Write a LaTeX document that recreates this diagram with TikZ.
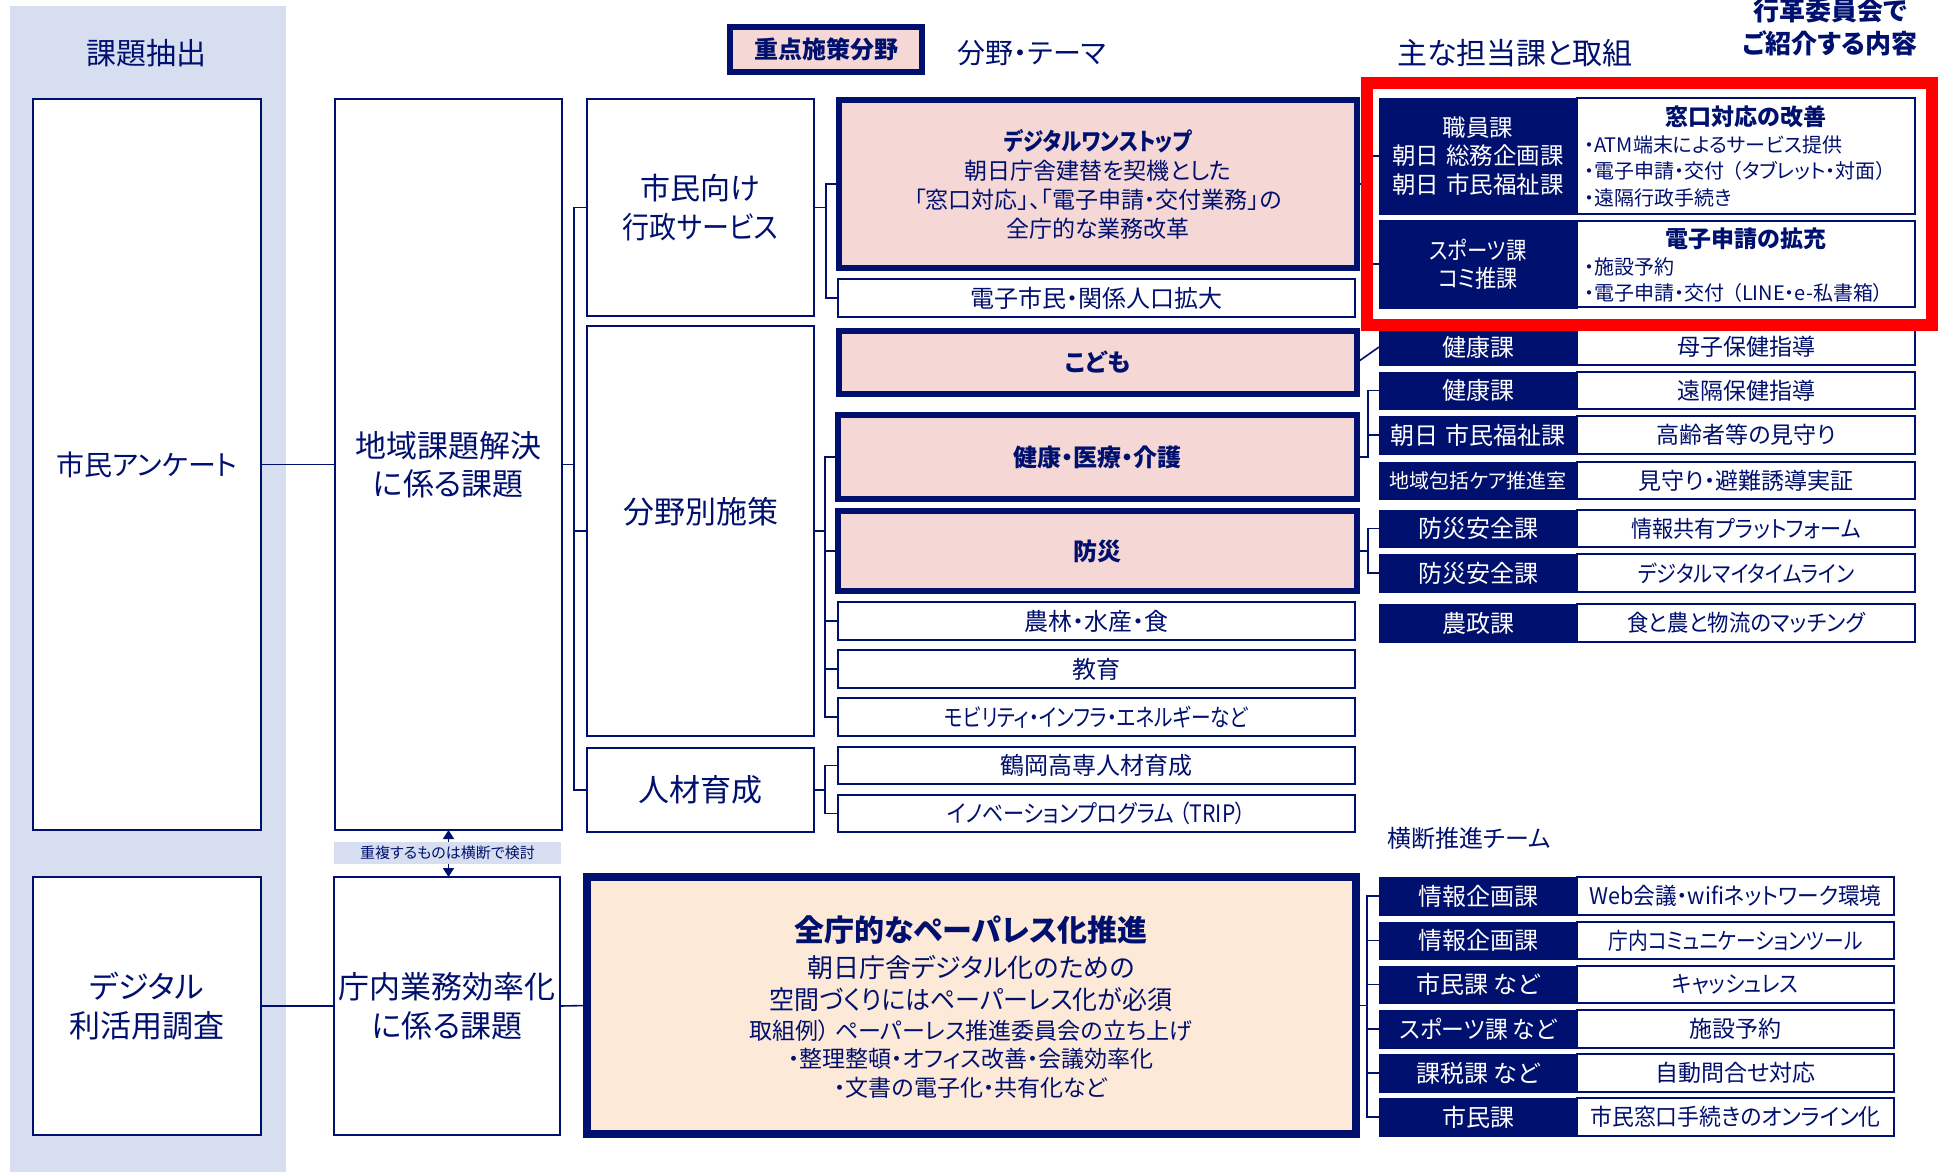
\documentclass[tikz,border=0pt]{standalone}
\usepackage{fontspec}
\usepackage{graphicx}
\setmainfont{Noto Sans CJK JP}[RawFeature=+palt]
\usetikzlibrary{arrows.meta}
\definecolor{navy}{HTML}{00106E}
\definecolor{pinkf}{HTML}{F5D7D5}
\definecolor{peach}{HTML}{FDE9D7}
\definecolor{lblue}{HTML}{D6DEEF}
\definecolor{redc}{HTML}{FF0000}
\newcommand\fs[2]{\fontsize{#1}{#2}\selectfont}
\newcommand\nar[2]{\scalebox{#1}[1]{#2}}
\newcommand\bx[7]{\node[#6,minimum width={(#4)-(#2)},minimum height={(#5)-(#3)}] (#1) at ({((#2)+(#4))/2},{((#3)+(#5))/2}) {#7};}
\newcommand\rowp[6]{\bx{#1d}{1379}{#2}{1577}{#3}{dark}{#4}\bx{#1w}{1577}{#2}{#6}{#3}{cell}{#5}}
\begin{document}
\begin{tikzpicture}[x=1pt,y=-1pt,
  every node/.style={inner sep=0pt,outer sep=0pt,text=navy},
  thin/.style={draw=navy,line width=1.8pt,fill=white,font=\fs{24}{28}},
  thick/.style={draw=navy,line width=6pt,fill=pinkf,font=\bfseries\fs{24}{29}},
  dark/.style={fill=navy,draw=navy,line width=0.8pt,text=white,font=\fs{24}{28},align=center},
  cell/.style={draw=navy,line width=1.8pt,fill=white,font=\fs{23}{27}},
  conn/.style={draw=navy,line width=1.6pt}]
\useasboundingbox (0,0) rectangle (1949,1172);
\fill[white] (0,0) rectangle (1949,1172);
% left band
\bx{band}{10}{6}{286}{1180}{fill=lblue}{}
% headers
\node[font=\fs{30}{36}] (h1) at (146,53) {課題抽出};
\bx{h2}{730}{27}{922}{72}{thick,font=\bfseries\fs{24}{28}}{重点施策分野}
\node[font=\fs{28}{34}] (h3) at (1032,53) {分野・テーマ};
\node[font=\fs{30}{36}] (h4) at (1515,53) {主な担当課と取組};
\node[font=\bfseries\fs{26}{33},align=center] (h5) at (1830,27) {行革委員会で\\ご紹介する内容};
\node[font=\fs{24}{28}] (h6) at (1469,838) {横断推進チーム};
% column 1 and 2
\bx{c1a}{33}{99}{261}{830}{thin,font=\fs{28}{34}}{市民アンケート}
\bx{c1b}{33}{877}{261}{1135}{thin,font=\fs{31}{39},align=center}{デジタル\\利活用調査}
\bx{c2a}{335}{99}{562}{830}{thin,font=\fs{31}{38},align=center}{地域課題解決\\に係る課題}
\bx{c2b}{334}{877}{560}{1135}{thin,font=\fs{31}{39},align=center}{庁内業務効率化\\に係る課題}
\draw[conn,{Triangle[width=11pt,length=9pt]}-{Triangle[width=11pt,length=9pt]}] (c2a.south) -- (c2a.south |- c2b.north);
\bx{lbl}{334}{842}{561}{864}{fill=lblue,font=\fs{15}{18}}{重複するものは横断で検討}
% column 3
\bx{c3a}{587}{99}{814}{316}{thin,font=\fs{30}{39},align=center}{市民向け\\\nar{0.9}{行政サービス}}
\bx{c3b}{587}{326}{814}{736}{thin}{}
\node[font=\fs{31}{37}] (c3bt) at (700.5,512) {分野別施策};
\bx{c3c}{587}{748}{814}{832}{thin,font=\fs{31}{37}}{人材育成}
% themes
\bx{t1}{839}{100}{1357}{268}{thick,align=center,font=\fs{23}{29}}{{\bfseries\fs{24}{29}\nar{0.85}{デジタルワンストップ}}\\朝日庁舎建替を契機とした\\「窓口対応」、「電子申請・交付業務」の\\全庁的な業務改革}
\bx{t2}{838}{279}{1355}{317}{thin}{電子市民・関係人口拡大}
\bx{t3}{839}{331}{1357}{394}{thick}{こども}
\bx{t4}{838}{415}{1357}{499}{thick}{健康・医療・介護}
\bx{t5}{838}{511}{1357}{591}{thick}{防災}
\bx{t6}{838}{602}{1355}{640}{thin}{農林・水産・食}
\bx{t7}{838}{650}{1355}{688}{thin}{教育}
\bx{t8}{838}{698}{1355}{736}{thin}{\nar{0.82}{モビリティ・インフラ・エネルギーなど}}
\bx{t9}{838}{747}{1355}{784}{thin}{鶴岡高専人材育成}
\bx{t10}{838}{795}{1355}{832}{thin}{\nar{0.88}{イノベーションプログラム\hspace{0.25em}（TRIP）}}
\bx{t11}{587}{877}{1356}{1134}{draw=navy,line width=8pt,fill=peach}{}
\node[font=\bfseries\fs{30}{36}] (p1) at (971,930) {全庁的なペーパレス化推進};
\node[font=\fs{26}{30}] (p2) at (971,967) {朝日庁舎デジタル化のための};
\node[font=\fs{26}{30}] (p3) at (971,1000) {\nar{0.96}{空間づくりにはペーパーレス化が必須}};
\node[font=\fs{23}{28}] (p4) at (971,1031) {取組例）\hspace{0.2em}ペーパーレス推進委員会の立ち上げ};
\node[font=\fs{23}{28}] (p5) at (971,1059) {・整理整頓・オフィス改善・会議効率化};
\node[font=\fs{23}{28}] (p6) at (971,1088) {・文書の電子化・共有化など};
% right top
\bx{r1d}{1379}{98}{1577}{214}{dark,font=\fs{23.5}{28.5}}{職員課\\朝日\hspace{0.3em}総務企画課\\朝日\hspace{0.3em}市民福祉課}
\bx{r1w}{1577}{98}{1915}{214}{cell}{}
\node[font=\bfseries\fs{23}{26}] (r1t) at (1746,117) {窓口対応の改善};
\node[font=\fs{20}{26.5},align=left,anchor=west] (r1b) at (1584,171) {・ATM端末によるサービス提供\\・電子申請・交付\hspace{0.4em}（タブレット・対面）\\・遠隔行政手続き};
\bx{r2d}{1379}{220}{1577}{308}{dark,font=\fs{24}{28}}{\nar{0.85}{スポーツ課}\\\nar{0.88}{コミ推課}}
\bx{r2w}{1577}{221}{1915}{307}{cell}{}
\node[font=\bfseries\fs{23}{26}] (r2t) at (1746,239) {電子申請の拡充};
\node[font=\fs{20}{26.5},align=left,anchor=west] (r2b) at (1584,280) {・施設予約\\・電子申請・交付\hspace{0.4em}（LINE・e-私書箱）};
\rowp{r3}{329}{365}{健康課}{母子保健指導}{1915}
\rowp{r4}{372}{409}{健康課}{遠隔保健指導}{1915}
\rowp{r5}{416}{454}{朝日\hspace{0.3em}市民福祉課}{高齢者等の見守り}{1915}
\rowp{r6}{462}{499}{{\fs{20}{24}地域包括ケア推進室}}{見守り・避難誘導実証}{1915}
\rowp{r7}{510}{547}{防災安全課}{\nar{0.92}{情報共有プラットフォーム}}{1915}
\rowp{r8}{554}{592}{防災安全課}{\nar{0.88}{デジタルマイタイムライン}}{1915}
\rowp{r9}{604}{642}{農政課}{\nar{0.93}{食と農と物流のマッチング}}{1915}
% right bottom
\rowp{b1}{877}{915}{情報企画課}{\nar{0.94}{Web会議・wifiネットワーク環境}}{1894}
\rowp{b2}{922}{959}{情報企画課}{\nar{0.86}{庁内コミュニケーションツール}}{1894}
\rowp{b3}{966}{1003}{市民課 など}{\nar{0.9}{キャッシュレス}}{1894}
\rowp{b4}{1010}{1048}{\nar{0.95}{スポーツ課 など}}{施設予約}{1894}
\rowp{b5}{1054}{1092}{課税課 など}{自動問合せ対応}{1894}
\rowp{b6}{1098}{1136}{市民課}{\nar{0.95}{市民窓口手続きのオンライン化}}{1894}
% connectors
\draw[conn] (c1a.east) -- (c2a.west);
\draw[conn] (c2a.east) -- ++(12,0);
\draw[conn] (c3a.west) -- ++(-13,0) |- (c3c.west);
\draw[conn] (c3b.west) -- ++(-13,0);
\draw[conn] (c3a.east) -- ++(12,0);
\draw[conn] (t1.west) -- ++(-13,0) |- (t2.west);
\draw[conn] (c3b.east) -- ++(11,0);
\draw[conn] (t4.west) -- ++(-13,0) |- (t8.west);
\draw[conn] (t5.west) -- ++(-13,0);
\draw[conn] (t6.west) -- ++(-13,0);
\draw[conn] (t7.west) -- ++(-13,0);
\draw[conn] (c3c.east) -- ++(11,0);
\draw[conn] (t9.west) -- ++(-13,0) |- (t10.west);
\draw[conn] (t1.east) -- ++(11,0);
\draw[conn] (r1d.west) -- ++(-11,0) |- (r2d.west);
\draw[conn] (t3.east) -- (r3d.west);
\draw[conn] (r4d.west) -- ++(-11,0) |- (t4.east);
\draw[conn] (r5d.west) -- ++(-11,0);
\draw[conn] (r7d.west) -- ++(-11,0) |- (r8d.west);
\draw[conn] (t5.east) -- ++(11,0);
\draw[conn] (c1b.east) -- (c2b.west);
\draw[conn] (c2b.east) -- (t11.west);
\draw[conn] (t11.east) -- ++(11,0);
\draw[conn] (b1d.west) -- ++(-12,0) |- (b6d.west);
\draw[conn] (b2d.west) -- ++(-12,0);
\draw[conn] (b3d.west) -- ++(-12,0);
\draw[conn] (b4d.west) -- ++(-12,0);
\draw[conn] (b5d.west) -- ++(-12,0);
% highlight
\bx{hl}{1367}{83}{1932}{325}{draw=redc,line width=12pt}{}
\end{tikzpicture}
\end{document}
